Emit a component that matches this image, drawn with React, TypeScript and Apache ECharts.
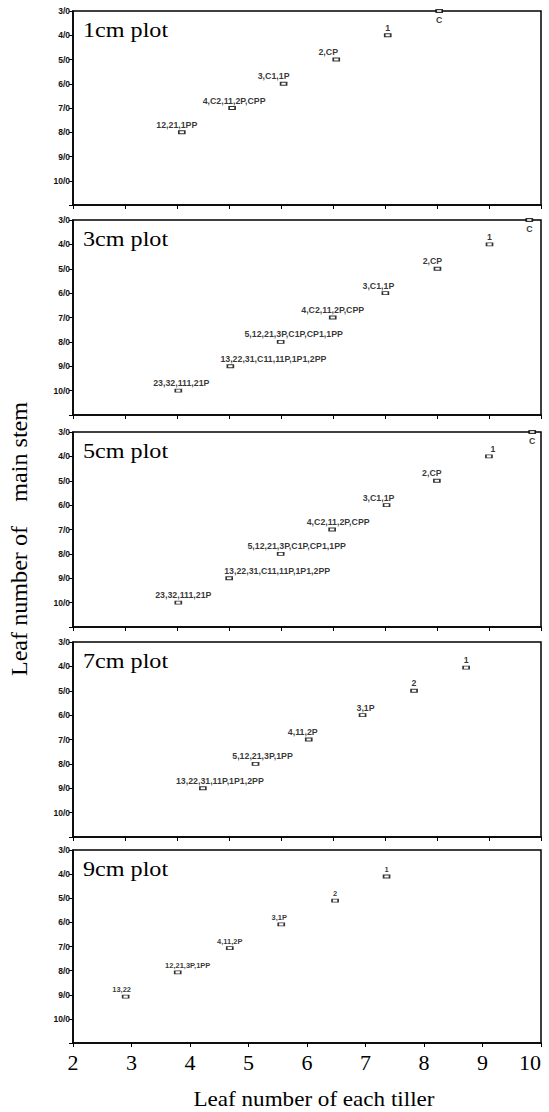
import React, { useEffect, useRef } from "react";
import * as echarts from "echarts";

// ---------- data ----------
const panelNames = ["1cm plot", "3cm plot", "5cm plot", "7cm plot", "9cm plot"];

const p1Labels = ["C", "1", "2,CP", "3,C1,1P", "4,C2,11,2P,CPP", "12,21,1PP"];
const p1X = [8.26, 7.38, 6.5, 5.6, 4.72, 3.86];
const p1Y = [3, 4, 5, 6, 7, 8];

const p2Labels = ["C", "1", "2,CP", "3,C1,1P", "4,C2,11,2P,CPP", "5,12,21,3P,C1P,CP1,1PP", "13,22,31,C11,11P,1P1,2PP", "23,32,111,21P"];
const p2X = [9.8, 9.12, 8.23, 7.34, 6.44, 5.55, 4.69, 3.8];
const p2Y = [3, 4, 5, 6, 7, 8, 9, 10];

const p3Labels = ["C", "1", "2,CP", "3,C1,1P", "4,C2,11,2P,CPP", "5,12,21,3P,C1P,CP1,1PP", "13,22,31,C11,11P,1P1,2PP", "23,32,111,21P"];
const p3X = [9.85, 9.11, 8.22, 7.36, 6.43, 5.55, 4.67, 3.8];
const p3Y = [3, 4, 5, 6, 7, 8, 9, 10];

const p4Labels = ["1", "2", "3,1P", "4,11,2P", "5,12,21,3P,1PP", "13,22,31,11P,1P1,2PP"];
const p4X = [8.72, 7.83, 6.95, 6.03, 5.12, 4.22];
const p4Y = [4.05, 5, 6, 7, 8, 9];

const p5Labels = ["1", "2", "3,1P", "4,11,2P", "12,21,3P,1PP", "13,22"];
const p5X = [7.36, 6.48, 5.56, 4.68, 3.79, 2.9];
const p5Y = [4.1, 5.1, 6.08, 7.07, 8.07, 9.08];

const xTicks = [2, 3, 4, 5, 6, 7, 8, 9, 10];
const yTicks = ["3/0", "4/0", "5/0", "6/0", "7/0", "8/0", "9/0", "10/0"];

const xTitle = "Leaf number of each tiller";
const yTitle = "Leaf number of\u00a0\u00a0\u00a0\u00a0main stem";

// ---------- label placement (px shifts, style only) ----------
const p1Shift = [0, 0, -8, -10, 2, -5];
const p2Shift = [0, 0, -5, -7, 0, 13, 43, 3];
const p3Shift = [0, 4, -5, -8, 6, 16, 48, 5];
const p4Shift = [0, 0, 3, -6, 7, 17];
const p5Shift = [0, 0, -2, 0, 10, -4];

const panels = [
  { labels: p1Labels, xs: p1X, ys: p1Y, shift: p1Shift, top: 11, height: 194, fs: 8.8 },
  { labels: p2Labels, xs: p2X, ys: p2Y, shift: p2Shift, top: 220, height: 195, fs: 8.8 },
  { labels: p3Labels, xs: p3X, ys: p3Y, shift: p3Shift, top: 432, height: 195, fs: 8.8 },
  { labels: p4Labels, xs: p4X, ys: p4Y, shift: p4Shift, top: 642, height: 195, fs: 8.8 },
  { labels: p5Labels, xs: p5X, ys: p5Y, shift: p5Shift, top: 850, height: 193, fs: 7.5 },
];

const GRID_LEFT = 73;
const GRID_WIDTH = 468;
const SERIF = "'Liberation Serif', 'DejaVu Serif', serif";
const SANS = "'Liberation Sans', Arial, sans-serif";

export default function App() {
  const ref = useRef<HTMLDivElement>(null);

  useEffect(() => {
    if (!ref.current) return;
    const chart = echarts.init(ref.current, null, { renderer: "svg" });

    const grids: any[] = [];
    const xAxes: any[] = [];
    const yAxes: any[] = [];
    const series: any[] = [];
    const graphics: any[] = [];

    panels.forEach((p, i) => {
      const last = i === panels.length - 1;
      grids.push({
        left: GRID_LEFT,
        top: p.top,
        width: GRID_WIDTH,
        height: p.height,
        show: true,
        borderColor: "#000",
        borderWidth: 1.5,
        backgroundColor: "transparent",
      });
      // data axis
      xAxes.push({
        gridIndex: i,
        type: "value",
        min: xTicks[0],
        max: xTicks[xTicks.length - 1],
        interval: 1,
        position: "bottom",
        axisLine: { show: true, lineStyle: { color: "#000", width: 1.5 } },
        axisTick: { show: last, length: 4, lineStyle: { color: "#000", width: 1 } },
        axisLabel: {
          show: last,
          margin: 8,
          color: "#000",
          fontFamily: SERIF,
          fontSize: 22,
          alignMaxLabel: "right",
          formatter: (v: number) => (xTicks.includes(v) ? String(v) : ""),
        },
        splitLine: { show: false },
      });
      yAxes.push({
        gridIndex: i,
        type: "value",
        min: 3,
        max: 11,
        interval: 1,
        inverse: true,
        axisLine: { show: true, lineStyle: { color: "#000", width: 1.5 } },
        axisTick: { show: true, length: 4, lineStyle: { color: "#000", width: 1 } },
        axisLabel: {
          color: "#111",
          fontFamily: SANS,
          fontWeight: "bold",
          fontSize: 8.5,
          margin: 3,
          formatter: (v: number) => {
            const idx = v - 3;
            return idx >= 0 && idx < yTicks.length ? yTicks[idx] : "";
          },
        },
        splitLine: { show: false },
      });
      series.push({
        type: "scatter",
        xAxisIndex: i,
        yAxisIndex: i,
        symbol: "rect",
        symbolSize: [6, 3],
        itemStyle: { color: "#fff", borderColor: "#000", borderWidth: 1.2 },
        label: {
          show: true,
          position: "top",
          distance: 1,
          color: "#000",
          fontFamily: SANS,
          fontWeight: "bold",
          fontSize: p.fs,
          formatter: (d: any) => p.labels[d.dataIndex],
        },
        data: p.xs.map((x, k) => ({
          value: [x, p.ys[k]],
          label: p.labels[k] === "C"
            ? { position: "bottom", distance: 3, offset: [0, 0] }
            : { offset: [p.shift[k], 0] },
        })),
      });
      graphics.push({
        type: "text",
        x: 83,
        y: p.top + 19,
        scaleX: 1.15,
        style: {
          text: panelNames[i],
          fontFamily: SERIF,
          fontSize: 21,
          fill: "#000",
          align: "left",
          verticalAlign: "middle",
        },
      });
    });

    // extra tick-only axes for the upper panels (nine-step tick marks in the scan)
    panels.slice(0, 4).forEach((_, i) => {
      xAxes.push({
        gridIndex: i,
        type: "value",
        min: 0,
        max: 9,
        interval: 1,
        position: "bottom",
        axisLine: { show: false },
        axisTick: { show: true, length: 4, lineStyle: { color: "#000", width: 1 } },
        axisLabel: { show: false },
        splitLine: { show: false },
      });
    });

    graphics.push({
      type: "text",
      x: 314,
      y: 1099,
      scaleX: 1.05,
      style: {
        text: xTitle,
        fontFamily: SERIF,
        fontSize: 22,
        fill: "#000",
        align: "center",
        verticalAlign: "middle",
      },
    });
    graphics.push({
      type: "text",
      x: 19,
      y: 539,
      rotation: Math.PI / 2,
      scaleX: 1.05,
      style: {
        text: yTitle,
        fontFamily: SERIF,
        fontSize: 23,
        fill: "#000",
        align: "center",
        verticalAlign: "middle",
      },
    });

    chart.setOption({
      animation: false,
      backgroundColor: "#fff",
      grid: grids,
      xAxis: xAxes,
      yAxis: yAxes,
      series,
      graphic: graphics,
    });

    return () => chart.dispose();
  }, []);

  return (
    <div
      ref={ref}
      style={{ position: "absolute", left: 0, top: 0, width: 549, height: 1112 }}
    />
  );
}
